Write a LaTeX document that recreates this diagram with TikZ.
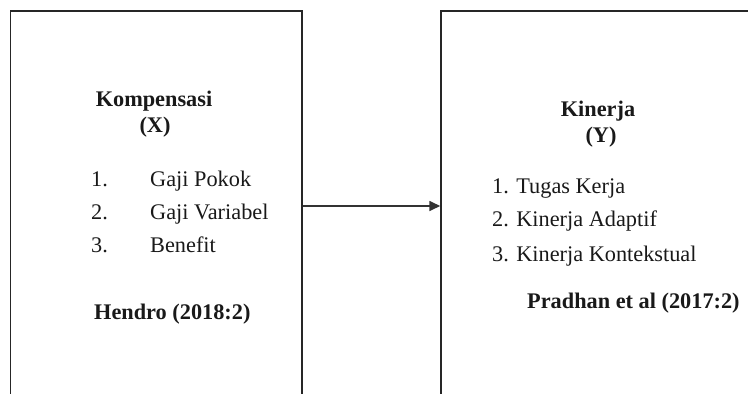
\documentclass[tikz,border=0pt]{standalone}
\usepackage{fontspec}
\setmainfont{Liberation Serif}
\usetikzlibrary{arrows.meta}
\begin{document}
\begin{tikzpicture}[x=1pt,y=-1pt,
  box/.style={draw=black!85, line width=1.5pt, rectangle, inner sep=0pt},
  txt/.style={inner sep=0pt, font=\fontsize{22.3}{27}\selectfont, text=black!90},
  btxt/.style={txt, font=\fontsize{22.3}{27}\selectfont\bfseries},
  conn/.style={draw=black!80, line width=1.7pt, -{Triangle[length=11pt,width=10pt]}}]
\clip (0,0) rectangle (748,394);
\fill[white] (0,0) rectangle (748,394);
% boxes
\node[box, minimum width=291.5pt, minimum height=390pt] (lbox) at (156.25,206) {};
\node[box, minimum width=320pt, minimum height=390pt] (rbox) at (601,206) {};
% left texts
\node[btxt, anchor=base] (lt1) at (154,106) {Kompensasi};
\node[btxt, anchor=base] (lt2) at (155,132) {(X)};
\node[txt, anchor=base west] (ln1) at (91,186) {1.};
\node[txt, anchor=base west] (li1) at (150,186) {Gaji Pokok};
\node[txt, anchor=base west] (ln2) at (91,219) {2.};
\node[txt, anchor=base west] (li2) at (150,219) {Gaji Variabel};
\node[txt, anchor=base west] (ln3) at (91,252) {3.};
\node[txt, anchor=base west] (li3) at (150,252) {Benefit};
\node[btxt, anchor=base west] (lsrc) at (94,319) {Hendro (2018:2)};
% right texts
\node[btxt, anchor=base] (rt1) at (598,116) {Kinerja};
\node[btxt, anchor=base] (rt2) at (601,142) {(Y)};
\node[txt, anchor=base west] (ri1) at (492,193) {1. Tugas Kerja};
\node[txt, anchor=base west] (ri2) at (492,226) {2. Kinerja Adaptif};
\node[txt, anchor=base west] (ri3) at (492,261) {3. Kinerja Kontekstual};
\node[btxt, anchor=base west] (rsrc) at (527,308) {Pradhan et al (2017:2)};
% connector
\draw[conn] (lbox.east) -- (rbox.west);
\end{tikzpicture}
\end{document}
